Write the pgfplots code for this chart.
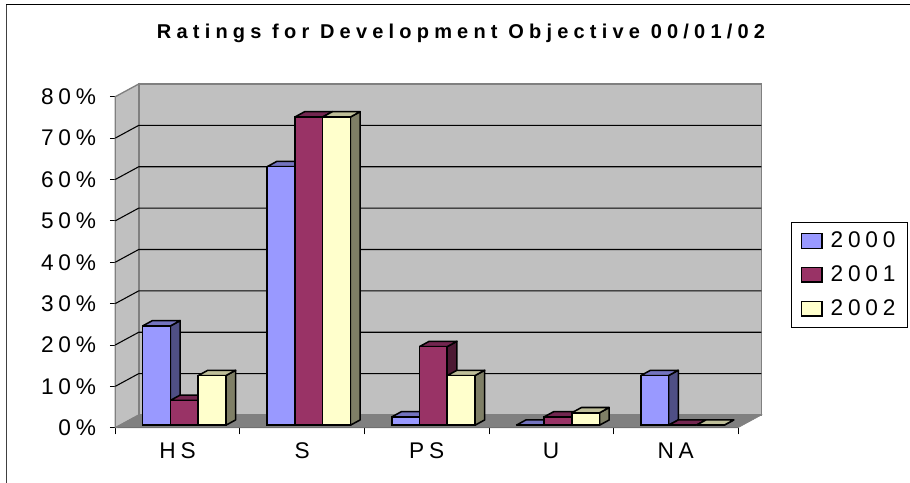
\documentclass[border=0pt]{standalone}
\usepackage{pgfplots}
\pgfplotsset{compat=1.18}
\usepackage{fontspec}
\setmainfont[LetterSpace=21]{Liberation Sans}
\newfontfamily\titlefont[LetterSpace=26]{Liberation Sans}

\definecolor{wallc}{HTML}{C0C0C0}
\definecolor{floorc}{HTML}{808080}
\definecolor{blueF}{HTML}{9999FF}
\definecolor{blueS}{HTML}{4F4F85}
\definecolor{blueT}{HTML}{7373BF}
\definecolor{redF}{HTML}{993366}
\definecolor{redS}{HTML}{4C1933}
\definecolor{redT}{HTML}{732650}
\definecolor{yelF}{HTML}{FFFFCC}
\definecolor{yelS}{HTML}{7F7F66}
\definecolor{yelT}{HTML}{BFBF99}

% one 3D bar: x centre, value, series colour prefix
\newcommand{\barthreed}[3]{%
  \pgfmathsetmacro{\xl}{#1-0.1114}
  \pgfmathsetmacro{\xr}{#1+0.1114}
  \pgfmathsetmacro{\xlb}{\xl+0.078}
  \pgfmathsetmacro{\xrb}{\xr+0.078}
  \pgfmathsetmacro{\yt}{#2+1.28}
  \addplot[forget plot,fill=#3S,draw=black,line width=1.15pt,line join=round]
    coordinates {(\xr,0) (\xrb,1.28) (\xrb,\yt) (\xr,#2) (\xr,0)};
  \addplot[forget plot,fill=#3T,draw=black,line width=1.15pt,line join=round]
    coordinates {(\xl,#2) (\xlb,\yt) (\xrb,\yt) (\xr,#2) (\xl,#2)};
  \addplot[forget plot,ybar,bar width=0.2228,fill=#3F,draw=black,line width=1.15pt]
    coordinates {(#1,#2)};
}
% one cluster: category x, values for 2000, 2001, 2002
\newcommand{\cluster}[4]{%
  \pgfmathsetmacro{\xa}{#1+0.054-0.2228}
  \pgfmathsetmacro{\xb}{#1+0.054}
  \pgfmathsetmacro{\xc}{#1+0.054+0.2228}
  \barthreed{\xa}{#2}{blue}
  \barthreed{\xb}{#3}{red}
  \barthreed{\xc}{#4}{yel}
}

\begin{document}
\begin{tikzpicture}[x=0.75pt,y=0.75pt]
\useasboundingbox (0,0) rectangle (910,482);
\draw[black!75,line width=1.2pt] (6.5,-5) -- (6.5,477.5);
\draw[black,line width=0.9pt] (6,477.5) -- (915,477.5);
\node[anchor=center,font=\titlefont\bfseries\fontsize{15}{17}\selectfont] at (461,449) {Ratings for Development Objective 00/01/02};
\begin{axis}[
  at={(86.475pt,40.725pt)},anchor=south west,
  scale only axis,
  width=467pt,height=248.25pt,
  xmin=-0.5,xmax=4.5,ymin=-0.6,ymax=79.4,
  clip=false,
  axis lines=left,
  axis line style={-,black,line width=0.8pt},
  xtick={0,1,2,3,4},
  xticklabels={HS,S,PS,U,NA},
  minor xtick={-0.5,0.5,1.5,2.5,3.5,4.5},
  ytick={-0.6,9.4,19.4,29.4,39.4,49.4,59.4,69.4,79.4},
  yticklabels={0\%,10\%,20\%,30\%,40\%,50\%,60\%,70\%,80\%},
  tick style={black,line width=0.6pt},
  major x tick style={draw=none},
  minor tick length=5pt,
  major tick length=4pt,
  tick align=outside,
  tick label style={font=\fontsize{17}{19}\selectfont},
  xticklabel style={yshift=-4pt},
  yticklabel style={xshift=-7pt},
  legend image code/.code={\draw[#1,draw=black,line width=1pt] (0pt,-5.5pt) rectangle (15.5pt,5.5pt);},
  legend style={at={(1.0851,0.6224)},anchor=north west,draw=black,line width=0.6pt,
    font=\fontsize{17}{19}\selectfont,row sep=8pt,inner xsep=7pt,inner ysep=5.5pt},
  legend cell align=left,
]
% walls and floor
\addplot[forget plot,fill=wallc,draw=floorc,line width=1.2pt] coordinates {(-0.312,2.47) (4.688,2.47) (4.688,82.47) (-0.312,82.47) (-0.312,2.47)};
\addplot[forget plot,fill=wallc,draw=floorc,line width=1pt] coordinates {(-0.5,-0.6) (-0.312,2.47) (-0.312,82.47) (-0.5,79.4) (-0.5,-0.6)};
\addplot[forget plot,fill=floorc,draw=floorc,line width=0.5pt] coordinates {(-0.5,-0.6) (-0.312,2.47) (4.688,2.47) (4.5,-0.6) (-0.5,-0.6)};
% gridlines
\addplot[forget plot,black,line width=0.8pt] coordinates {(-0.5,9.4) (-0.312,12.47) (4.688,12.47)};
\addplot[forget plot,black,line width=0.8pt] coordinates {(-0.5,19.4) (-0.312,22.47) (4.688,22.47)};
\addplot[forget plot,black,line width=0.8pt] coordinates {(-0.5,29.4) (-0.312,32.47) (4.688,32.47)};
\addplot[forget plot,black,line width=0.8pt] coordinates {(-0.5,39.4) (-0.312,42.47) (4.688,42.47)};
\addplot[forget plot,black,line width=0.8pt] coordinates {(-0.5,49.4) (-0.312,52.47) (4.688,52.47)};
\addplot[forget plot,black,line width=0.8pt] coordinates {(-0.5,59.4) (-0.312,62.47) (4.688,62.47)};
\addplot[forget plot,black,line width=0.8pt] coordinates {(-0.5,69.4) (-0.312,72.47) (4.688,72.47)};
% bars
\cluster{0}{24}{6}{12}
\cluster{1}{62.5}{74.5}{74.5}
\cluster{2}{2}{19}{12}
\cluster{3}{0}{2}{3}
\cluster{4}{12}{0}{0}
\addlegendimage{fill=blueF}
\addlegendimage{fill=redF}
\addlegendimage{fill=yelF}
\legend{\hspace{4pt}2000\hspace{14pt},\hspace{4pt}2001\hspace{14pt},\hspace{4pt}2002\hspace{14pt}}
\end{axis}
\end{tikzpicture}
\end{document}
